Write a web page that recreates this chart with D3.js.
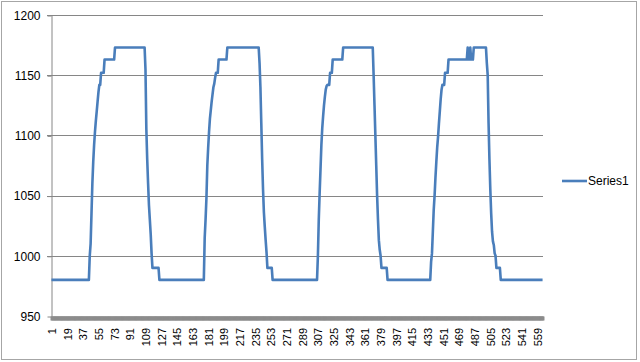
<!DOCTYPE html>
<html>
<head>
<meta charset="utf-8">
<script src="https://cdn.jsdelivr.net/npm/d3@7"></script>
<style>
  body { margin: 0; background: #fff; }
  svg { display: block; font-family: "Liberation Sans", Arial, sans-serif; }
</style>
</head>
<body>
<div id="content"></div>
<script>
// series data; a plain number is one point, [value, count] is a run
const cycle1 = [[980, 44], 1000, 1010, 1035, 1060, 1078, 1092, 1103, 1112, 1120, 1128, 1136,
  [1142, 2], [1152, 4], [1163, 12], [1173, 35],
  1155, 1105, 1080, 1060, 1042, 1030, 1018, 1002, [990, 8]];
const cycle2 = [[980, 52], 1015, 1030, 1048, 1075, 1090, 1103, 1114, 1121, 1128, 1134, 1140, 1143, 1148,
  [1152, 3], [1163, 10], [1173, 37],
  1160, 1140, 1110, 1080, 1055, 1036, 1024, 1013, 1003, [990, 6]];
const cycle3 = [[980, 52], 1000, 1030, 1052, 1072, 1092, 1106, 1116, 1125, 1132, 1138, 1141,
  [1142, 3], [1152, 3], [1163, 12], [1173, 35],
  1150, 1125, 1100, 1075, 1050, 1030, 1013, 1005, 1000, [990, 7]];
const cycle4 = [[980, 50], 995, 1002, 1020, 1038, 1050, 1065, 1078, 1090, 1099, 1110, 1120, 1130, 1138,
  [1142, 3], [1152, 4], [1163, 22],
  1173, 1163, 1163, 1173, 1163, 1163, 1163, [1173, 15],
  1160, 1150, 1110, 1080, 1055, 1035, 1020, 1012, 1009, 1002, 1000, [990, 5], [980, 49]];

const xTickLabels = [1, 19, 37, 55, 73, 91, 109, 127, 145, 163, 181, 199, 217, 235, 253, 271,
  289, 307, 325, 343, 361, 379, 397, 415, 433, 451, 469, 487, 505, 523, 541, 559];
const yTicks = [950, 1000, 1050, 1100, 1150, 1200];
const seriesName = "Series1";

// expand runs
var values = [];
[cycle1, cycle2, cycle3, cycle4].forEach(function(c) {
  c.forEach(function(e) {
    if (Array.isArray(e)) { for (var k = 0; k < e[1]; k++) values.push(e[0]); }
    else values.push(e);
  });
});
var data = values.map(function(v, i) { return { cat: i + 1, value: v }; });

var width = 640, height = 362;
var plotL = 51, plotR = 543, plotT = 15, plotB = 316;
var axisColor = "#868686";
var lineColor = "#4a7ebb";

var svg = d3.select("#content").append("svg")
  .attr("width", width)
  .attr("height", height);

// outer chart border
svg.append("rect")
  .attr("x", 1.5).attr("y", 1.5)
  .attr("width", 635).attr("height", 358)
  .attr("fill", "#fff")
  .attr("stroke", "#a6a6a6");

var cats = data.map(function(d) { return d.cat; });
var x = d3.scalePoint().domain(cats).range([plotL, plotR]).padding(0.5);
var y = d3.scaleLinear().domain([950, 1200]).range([plotB, plotT]);

// gridlines
svg.append("g")
  .selectAll("line")
  .data(yTicks.filter(function(t) { return t > 950; }))
  .enter().append("line")
  .attr("x1", plotL - 4).attr("x2", plotR)
  .attr("y1", function(d) { return Math.round(y(d)) + 0.5; })
  .attr("y2", function(d) { return Math.round(y(d)) + 0.5; })
  .attr("stroke", axisColor)
  .attr("stroke-width", 1);

// y axis
var yAxis = svg.append("g")
  .attr("transform", "translate(" + (plotL + 0.5) + ",0.5)")
  .call(d3.axisLeft(y).tickValues(yTicks).tickSize(4).tickSizeOuter(0).tickPadding(7).tickFormat(d3.format("d")));
yAxis.select(".domain").attr("stroke", axisColor);
yAxis.selectAll(".tick line").attr("stroke", axisColor);
yAxis.selectAll("text").attr("font-size", 12).attr("fill", "#000")
  .attr("font-family", "'Liberation Sans', Arial, sans-serif");

// x axis: one tick per category boundary (they pack into a solid band)
var xb = d3.scaleLinear().domain([0, cats.length]).range([plotL, plotR]);
var xAxis = svg.append("g")
  .attr("transform", "translate(0," + (plotB + 0.5) + ")")
  .call(d3.axisBottom(xb).tickValues(d3.range(0, cats.length + 1)).tickSize(4).tickSizeOuter(0).tickFormat(""));
xAxis.select(".domain").attr("stroke", axisColor);
xAxis.selectAll(".tick line").attr("stroke", "#8c8c8c").attr("stroke-width", 2);

// x labels, rotated
svg.append("g")
  .selectAll("text")
  .data(xTickLabels)
  .enter().append("text")
  .attr("transform", function(d) { return "translate(" + (x(d) + 4.5) + "," + (plotB + 12) + ") rotate(-90)"; })
  .attr("text-anchor", "end")
  .attr("font-size", 11)
  .attr("fill", "#000")
  .text(function(d) { return d; });

// series line
var line = d3.line()
  .x(function(d) { return x(d.cat); })
  .y(function(d) { return y(d.value); });

svg.append("path")
  .datum(data)
  .attr("d", line)
  .attr("fill", "none")
  .attr("stroke", lineColor)
  .attr("stroke-width", 2.6)
  .attr("stroke-linejoin", "round");

// legend
var legend = svg.append("g").attr("transform", "translate(562,181)");
legend.append("line")
  .attr("x1", 0).attr("x2", 25)
  .attr("stroke", lineColor)
  .attr("stroke-width", 2.6);
legend.append("text")
  .attr("x", 26).attr("y", 4)
  .attr("font-size", 12)
  .attr("fill", "#000")
  .text(seriesName);
</script>
</body>
</html>
